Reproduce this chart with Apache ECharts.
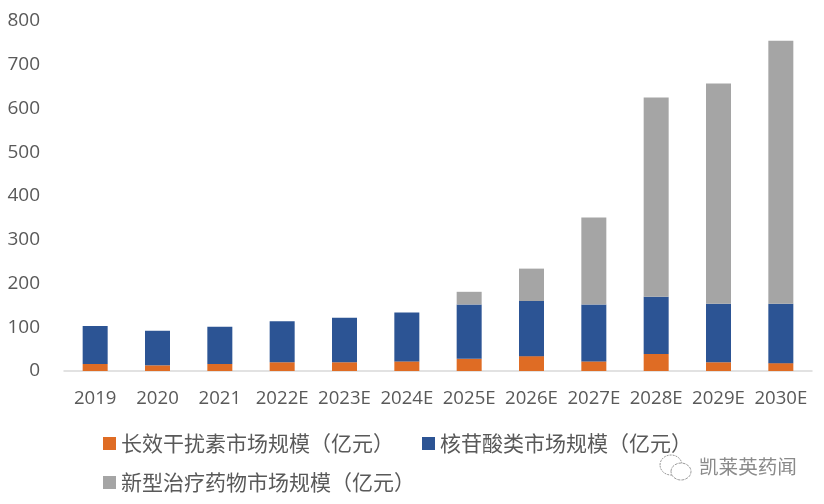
<!DOCTYPE html>
<html><head><meta charset="utf-8">
<style>html,body{margin:0;padding:0;background:#fff}#c{width:824px;height:504px}</style>
<script src="https://cdn.jsdelivr.net/npm/echarts@6/dist/echarts.min.js"></script>
</head><body><div id="c"></div>
<script>
const categories=['2019','2020','2021','2022E','2023E','2024E','2025E','2026E','2027E','2028E','2029E','2030E'];
const interferon=[16,13,16,20,20,22,28,34,22,39,20,18];
const nucleoside=[87,79,85,94,102,112,124,126,130,131,134,136];
const novel=[0,0,0,0,0,0,29,74,199,455,503,601];
const names=['长效干扰素市场规模（亿元）','核苷酸类市场规模（亿元）','新型治疗药物市场规模（亿元）'];
const colors=['#DF6C24','#2C5494','#A5A5A5'];
const values=[interferon,nucleoside,novel];
const legendPos=[[103,433],[422,433],[103,472]];
const chart=echarts.init(document.getElementById('c'));
chart.setOption({
  animation:false,
  textStyle:{fontFamily:'"Noto Sans CJK SC"'},
  grid:{left:64,right:12,top:21,bottom:133,containLabel:false},
  xAxis:{type:'category',data:categories,
    axisLine:{lineStyle:{color:'#D9D9D9',width:1.5}},axisTick:{show:false},
    axisLabel:{color:'#595959',fontSize:18.6,fontFamily:'"Open Sans", Lato',margin:18,interval:0}},
  yAxis:{type:'value',min:0,max:800,interval:100,splitLine:{show:false},axisLine:{show:false},axisTick:{show:false},
    axisLabel:{color:'#595959',fontSize:19,fontFamily:'"Open Sans", Lato',margin:24}},
  legend:names.map((n,i)=>({data:[n],left:legendPos[i][0],top:legendPos[i][1],itemWidth:13,itemHeight:13,itemGap:0,
    icon:'rect',padding:0,textStyle:{color:'#595959',fontSize:21}})),
  graphic:[
    {type:'text',left:699,top:457,style:{text:'凯莱英药闻',fill:'#8a8a8a',font:'19.6px "Noto Sans CJK SC"'}},
    {type:'ellipse',shape:{cx:671,cy:465,rx:11,ry:10},style:{fill:'none',stroke:'#9a9a9a',lineWidth:1,lineDash:[2,1]}},
    {type:'ellipse',shape:{cx:681,cy:471.5,rx:10,ry:8.5},style:{fill:'#fff',stroke:'#9a9a9a',lineWidth:1,lineDash:[3,1]}}
  ],
  series:names.map((n,i)=>({name:n,type:'bar',stack:'t',data:values[i],barWidth:25,
    itemStyle:{color:colors[i]}}))
});
</script></body></html>
